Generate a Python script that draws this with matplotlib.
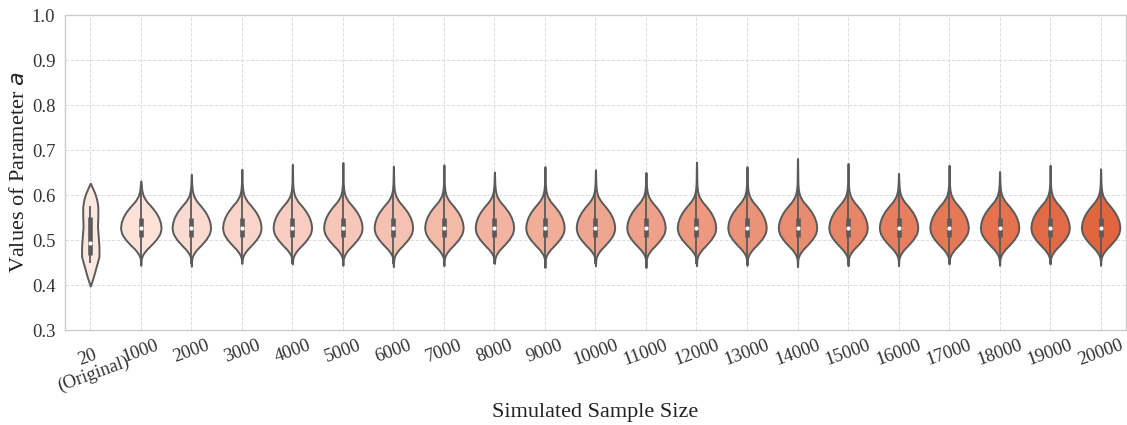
import numpy as np
import matplotlib
matplotlib.use("Agg")
import matplotlib.pyplot as plt
from matplotlib.colors import LinearSegmentedColormap

# ---------------- data ----------------
categories = ["20\n(Original)", "1000", "2000", "3000", "4000", "5000", "6000",
              "7000", "8000", "9000", "10000", "11000", "12000", "13000",
              "14000", "15000", "16000", "17000", "18000", "19000", "20000"]

# upper / lower extent of each violin
tip_high = [0.626, 0.631, 0.646, 0.657, 0.668, 0.672, 0.664, 0.667, 0.651, 0.663,
            0.656, 0.650, 0.673, 0.663, 0.681, 0.670, 0.648, 0.666, 0.652, 0.666, 0.658]
tip_low = [0.398, 0.444, 0.442, 0.448, 0.447, 0.444, 0.441, 0.443, 0.448, 0.439,
           0.443, 0.439, 0.443, 0.444, 0.441, 0.443, 0.443, 0.447, 0.444, 0.447, 0.444]

# box statistics
medians = [0.494] + [0.526] * 20
q1s = [0.466] + [0.507] * 20
q3s = [0.552] + [0.548] * 20
whisk_low = [0.448] + [0.446] * 20
whisk_high = [0.576] + [0.610] * 20

# density profile of the original sample (value, relative density)
orig_vals = [0.418, 0.441, 0.463, 0.485, 0.507, 0.530, 0.552, 0.574, 0.589, 0.604]
orig_dens = [0.35, 0.68, 1.00, 1.00, 0.92, 0.83, 0.87, 0.87, 0.75, 0.52]

# density profile shared by the simulated samples (value, relative density)
sim_vals = [0.455, 0.460, 0.468, 0.478, 0.490, 0.502, 0.514, 0.526, 0.538,
            0.550, 0.562, 0.574, 0.586, 0.598, 0.610, 0.625]
sim_dens = [0.015, 0.03, 0.10, 0.26, 0.53, 0.77, 0.94, 1.00, 0.97,
            0.88, 0.73, 0.52, 0.28, 0.12, 0.05, 0.02]

# relative peak width of each violin (area scaling)
peak_width = [0.43] + [1.0] + [0.95] * 19

y_ticks = [0.3, 0.4, 0.5, 0.6, 0.7, 0.8, 0.9, 1.0]

# ---------------- figure ----------------
plt.rcParams["font.family"] = ["Liberation Serif", "DejaVu Serif"]
plt.rcParams["mathtext.fontset"] = "dejavusans"

fig = plt.figure(figsize=(11.27, 4.25), dpi=100)
ax = fig.add_axes([0.0577, 0.2235, 0.9413, 0.7412])

cmap = LinearSegmentedColormap.from_list("pal", ["#fde8e1", "#e1653f"])
n = len(categories)
colors = [cmap(i / (n - 1)) for i in range(n)]


def smooth(y, k=5):
    ker = np.ones(k) / k
    pad = np.pad(y, k // 2, mode="edge")
    return np.convolve(pad, ker, mode="valid")


vpstats = []
for i in range(n):
    if i == 0:
        v = [tip_low[i]] + orig_vals + [tip_high[i]]
        d = [0.01] + orig_dens + [0.01]
    else:
        v = [tip_low[i]] + sim_vals + [tip_high[i]]
        d = [0.004] + sim_dens + [0.004]
    grid = np.linspace(v[0], v[-1], 300)
    dens = smooth(np.interp(grid, v, d), 9)
    dens[0] = d[0]
    dens[-1] = d[-1]
    vpstats.append({"coords": grid, "vals": dens, "mean": medians[i],
                    "median": medians[i], "min": v[0], "max": v[-1]})

positions = np.arange(n)
widths = [0.8 * w for w in peak_width]
parts = ax.violin(vpstats, positions=positions, widths=widths,
                  showmeans=False, showextrema=False, showmedians=False)
edge = "#5a5a5a"
for body, c in zip(parts["bodies"], colors):
    body.set_facecolor(c)
    body.set_edgecolor(edge)
    body.set_linewidth(1.4)
    body.set_alpha(1)
    body.set_zorder(2)

ax.vlines(positions, whisk_low, whisk_high, color=edge, lw=1.3, zorder=3)
ax.vlines(positions, q1s, q3s, color=edge, lw=3.3, zorder=3)
ax.scatter(positions, medians, s=9, color="white", zorder=4, linewidths=0)

ax.set_xlim(-0.5, n - 0.5)
ax.set_ylim(0.3, 1.0)
ax.set_yticks(y_ticks)
ax.set_yticklabels([f"{t:.1f}" for t in y_ticks], fontsize=13.5, color="#333333")
ax.set_xticks(positions)
ax.set_xticklabels(categories, rotation=20, ha="center", fontsize=13.5,
                   color="#333333", linespacing=1.0)
ax.tick_params(axis="y", length=0, pad=7)
ax.tick_params(axis="x", length=0, pad=5)

ax.grid(True, color="#dddddd", linestyle="--", linewidth=0.7, zorder=0)
ax.set_axisbelow(True)
for s in ax.spines.values():
    s.set_color("#cccccc")
    s.set_linewidth(1.0)

ax.set_xlabel("Simulated Sample Size", fontsize=16, color="#222222", labelpad=6)
ax.set_ylabel("Values of Parameter $a$", fontsize=16, color="#222222", labelpad=2)

fig.savefig("out.png", dpi=100)
